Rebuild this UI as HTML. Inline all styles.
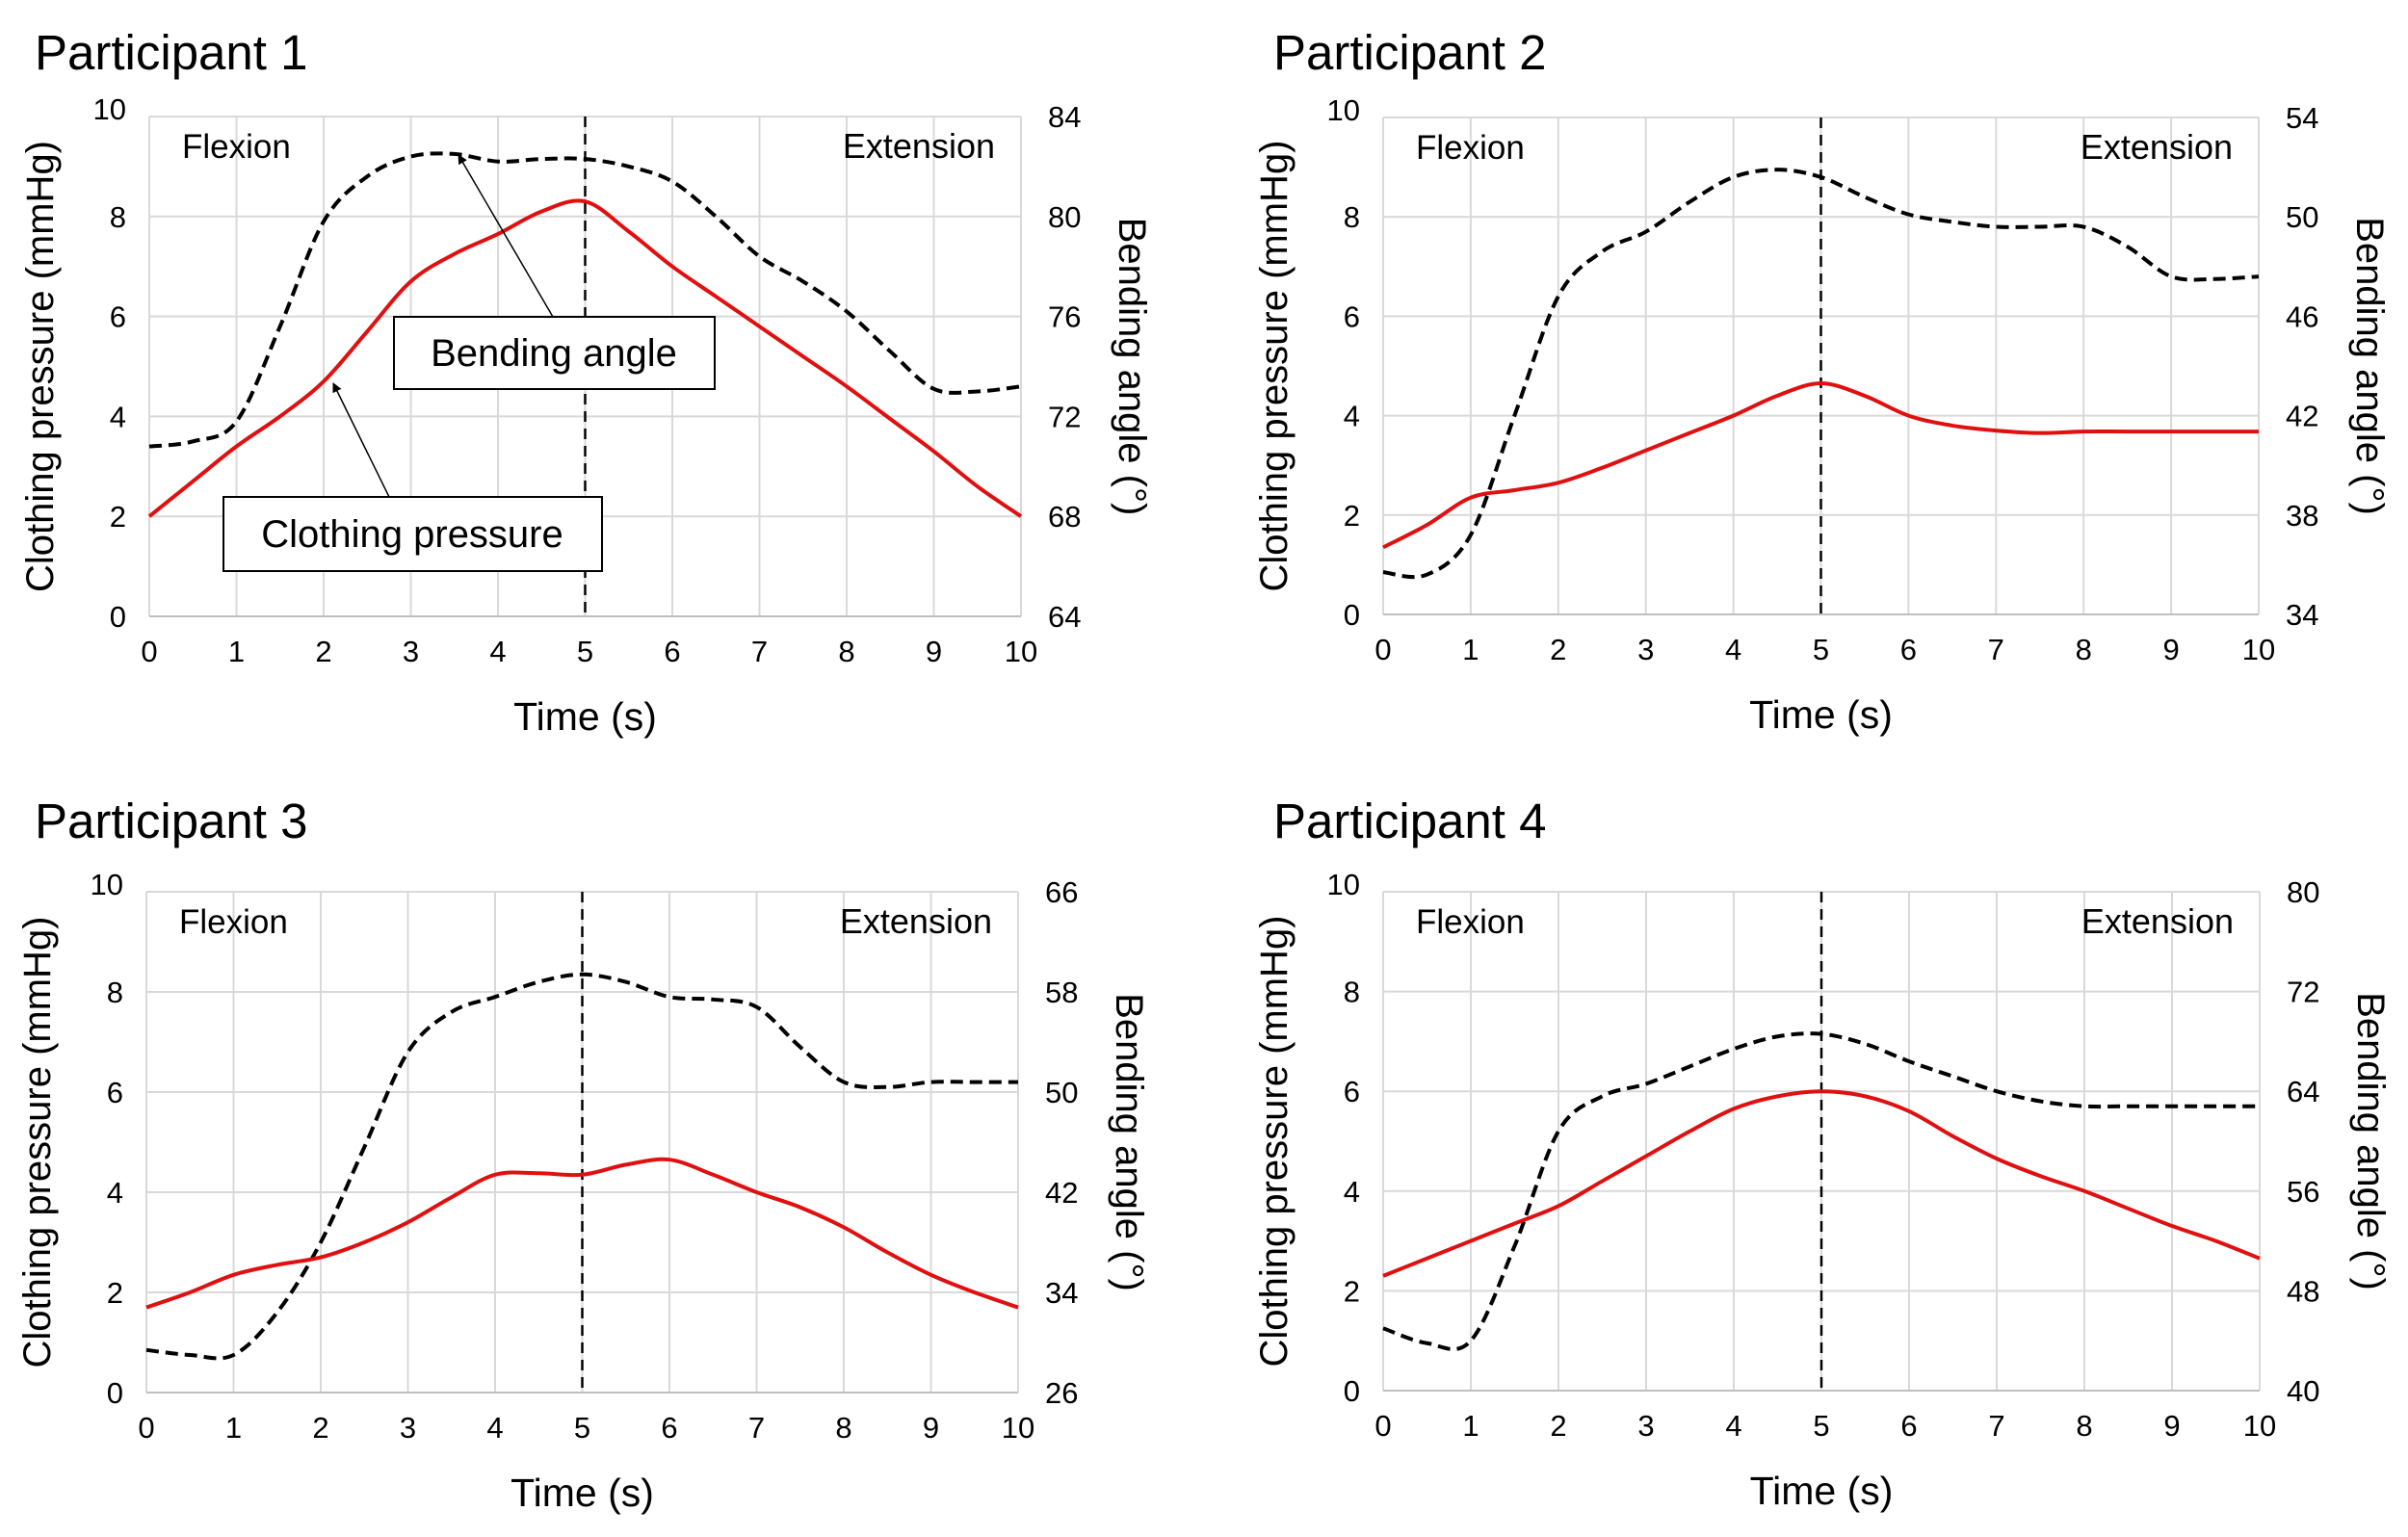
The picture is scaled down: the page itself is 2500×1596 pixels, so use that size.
<!DOCTYPE html>
<html><head><meta charset="utf-8">
<style>
html,body{margin:0;padding:0;background:#fff;}
svg{display:block;font-family:"Liberation Sans",sans-serif;}
</style></head>
<body>
<svg id="chart" width="2500" height="1596" viewBox="0 0 2500 1596" xmlns="http://www.w3.org/2000/svg"></svg>
<script>
const times = [0,0.5,1,1.5,2,2.5,3,3.5,4,4.5,5,5.5,6,6.5,7,7.5,8,8.5,9,9.5,10];
const xTicks = [0,1,2,3,4,5,6,7,8,9,10];
const leftTicks = [0,2,4,6,8,10];
const titles = ["Participant 1","Participant 2","Participant 3","Participant 4"];
const p1Pressure = [2.0,2.7,3.4,4.0,4.7,5.7,6.7,7.25,7.65,8.1,8.3,7.7,7.0,6.4,5.8,5.2,4.6,3.95,3.3,2.6,2.0];
const p1Angle = [70.8,71,71.8,75.6,79.8,81.6,82.4,82.5,82.2,82.3,82.3,82,81.4,80,78.4,77.4,76.2,74.6,73.1,73,73.2];
const p2Pressure = [1.35,1.8,2.35,2.5,2.65,2.95,3.3,3.65,4.0,4.4,4.65,4.4,4.0,3.8,3.7,3.65,3.68,3.68,3.68,3.68,3.68];
const p2Angle = [35.7,35.6,37.2,42,46.8,48.6,49.4,50.6,51.6,51.9,51.6,50.8,50.1,49.8,49.6,49.6,49.6,48.8,47.6,47.5,47.6];
const p3Pressure = [1.7,2.0,2.35,2.55,2.7,3.0,3.4,3.9,4.35,4.38,4.35,4.55,4.65,4.35,4.0,3.7,3.3,2.8,2.35,2.0,1.7];
const p3Angle = [29.4,29,29,32.4,38,45.6,53.2,56.4,57.6,58.8,59.4,58.8,57.6,57.4,56.8,53.6,50.8,50.4,50.8,50.8,50.8];
const p4Pressure = [2.3,2.65,3.0,3.35,3.7,4.2,4.7,5.2,5.65,5.9,6.0,5.9,5.6,5.1,4.65,4.3,4.0,3.65,3.3,3.0,2.65];
const p4Angle = [45,43.8,44,51.6,60.8,63.6,64.6,66,67.4,68.4,68.6,67.8,66.4,65.2,64,63.2,62.8,62.8,62.8,62.8,62.8];
const rightTicks1 = [64,68,72,76,80,84];
const rightTicks2 = [34,38,42,46,50,54];
const rightTicks3 = [26,34,42,50,58,66];
const rightTicks4 = [40,48,56,64,72,80];

const NS="http://www.w3.org/2000/svg";
const svg=document.getElementById('chart');
function mk(tag,attrs,parent,text){const e=document.createElementNS(NS,tag);for(const k in attrs)e.setAttribute(k,attrs[k]);if(text!==undefined)e.textContent=text;(parent||svg).appendChild(e);return e;}
const defs=mk('defs',{});
const mkr=mk('marker',{id:'arr',markerWidth:'10',markerHeight:'10',refX:'9',refY:'5',orient:'auto',markerUnits:'userSpaceOnUse'},defs);
mk('path',{d:'M0,0 L10,5 L0,10 z',fill:'#000'},mkr);

function smoothPath(pts){
  let d=`M${pts[0][0]},${pts[0][1]}`;
  for(let i=0;i<pts.length-1;i++){
    const p0=pts[Math.max(0,i-1)],p1=pts[i],p2=pts[i+1],p3=pts[Math.min(pts.length-1,i+2)];
    const c1x=p1[0]+(p2[0]-p0[0])/6,c1y=p1[1]+(p2[1]-p0[1])/6;
    const c2x=p2[0]-(p3[0]-p1[0])/6,c2y=p2[1]-(p3[1]-p1[1])/6;
    d+=` C${c1x},${c1y} ${c2x},${c2y} ${p2[0]},${p2[1]}`;
  }
  return d;
}

const panels=[
 {x0:155,x1:1060,y0:121,y1:640,tx:36,ty:70,pressure:p1Pressure,angle:p1Angle,rt:rightTicks1},
 {x0:1436,x1:2345,y0:122,y1:638,tx:1322,ty:70,pressure:p2Pressure,angle:p2Angle,rt:rightTicks2},
 {x0:152,x1:1057,y0:926,y1:1446,tx:36,ty:868,pressure:p3Pressure,angle:p3Angle,rt:rightTicks3},
 {x0:1436,x1:2346,y0:926,y1:1444,tx:1322,ty:868,pressure:p4Pressure,angle:p4Angle,rt:rightTicks4}
];

panels.forEach((p,i)=>{
  const g=mk('g',{});
  
  
  const xs=t=>p.x0+(t-0)/(10-0)*(p.x1-p.x0);
  const yl=v=>p.y1-(v-0)/(10-0)*(p.y1-p.y0);
  const rmin=p.rt[0],rmax=p.rt[p.rt.length-1];
  const yr=v=>p.y1-(v-rmin)/(rmax-rmin)*(p.y1-p.y0);

  const tt=mk('text',{x:p.tx,y:p.ty+2,'font-size':'51',fill:'#000'},g,titles[i]);
  
  

  xTicks.forEach(t=>{const l=mk('line',{x1:xs(t),x2:xs(t),y1:p.y0,y2:p.y1,stroke:'#d9d9d9','stroke-width':'2'},g);
    
    const tx=mk('text',{x:xs(t),y:p.y1+47,'font-size':'31','text-anchor':'middle'},g,String(t));
    });
  leftTicks.forEach(v=>{const l=mk('line',{x1:p.x0,x2:p.x1,y1:yl(v),y2:yl(v),stroke:'#d9d9d9','stroke-width':'2'},g);
    
    const tx=mk('text',{x:p.x0-24,y:yl(v)+11-(v===10?8:0),'font-size':'31','text-anchor':'end'},g,String(v));
    });
  p.rt.forEach(v=>{const tx=mk('text',{x:p.x1+28,y:yr(v)+11,'font-size':'31','text-anchor':'start'},g,String(v));
    });
  const ax=mk('line',{x1:p.x0,x2:p.x1,y1:p.y1,y2:p.y1,stroke:'#bfbfbf','stroke-width':'2'},g);
  

  const xt=mk('text',{x:(p.x0+p.x1)/2,y:p.y1+118,'font-size':'41','text-anchor':'middle'},g,'Time (s)');
  
  const lx=p.x0-100,ly=(p.y0+p.y1)/2;
  const yt=mk('text',{x:lx,y:ly,'font-size':'40','text-anchor':'middle',transform:`rotate(-90 ${lx} ${ly})`},g,'Clothing pressure (mmHg)');
  
  const rx=p.x1+102;
  const rt=mk('text',{x:rx,y:ly,'font-size':'40','text-anchor':'middle',transform:`rotate(90 ${rx} ${ly})`},g,'Bending angle (°)');
  

  const fl=mk('text',{x:p.x0+34,y:p.y0+43,'font-size':'35'},g,'Flexion');
  
  const ex=mk('text',{x:p.x1-27,y:p.y0+43,'font-size':'36','text-anchor':'end'},g,'Extension');
  

  const dv=mk('line',{x1:xs(5),x2:xs(5),y1:p.y0,y2:p.y1,stroke:'#000','stroke-width':'2.5','stroke-dasharray':'11,7'},g);
  

  const ap=mk('path',{d:smoothPath(times.map((t,k)=>[xs(t),yr(p.angle[k])])),fill:'none',stroke:'#000','stroke-width':'4','stroke-dasharray':'13,7'},g);
  
  const pp=mk('path',{d:smoothPath(times.map((t,k)=>[xs(t),yl(p.pressure[k])])),fill:'none',stroke:'#e01010','stroke-width':'4'},g);
  

  if(i===0){
    const a1=mk('line',{x1:574,y1:329,x2:476,y2:161,stroke:'#000','stroke-width':'1.5','marker-end':'url(#arr)'},g);
    
    const a2=mk('line',{x1:404,y1:516,x2:346,y2:398,stroke:'#000','stroke-width':'1.5','marker-end':'url(#arr)'},g);
    
    const b1=mk('rect',{x:409,y:329,width:333,height:75,fill:'#fff',stroke:'#000','stroke-width':'2'},g);
    
    const t1=mk('text',{x:575,y:380,'font-size':'40','text-anchor':'middle'},g,'Bending angle');
    
    const b2=mk('rect',{x:232,y:516,width:393,height:77,fill:'#fff',stroke:'#000','stroke-width':'2'},g);
    
    const t2=mk('text',{x:428,y:568,'font-size':'40','text-anchor':'middle'},g,'Clothing pressure');
    
  }
});
</script>
</body></html>
